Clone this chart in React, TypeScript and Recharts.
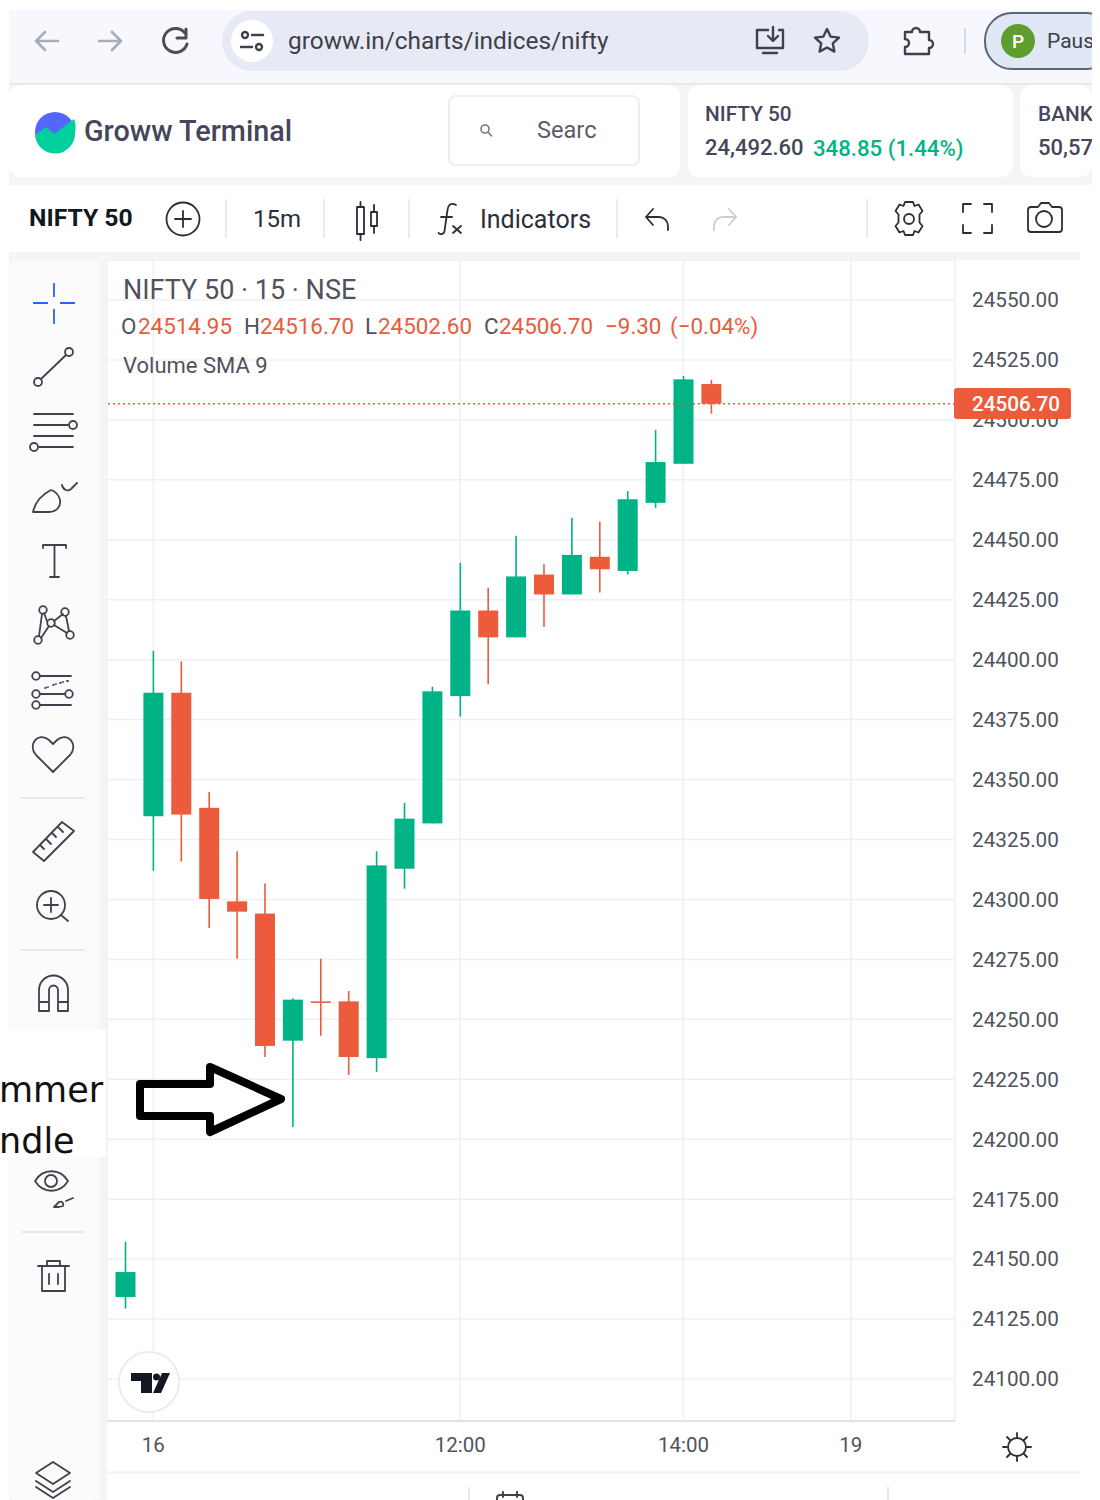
import React from "react"
import { ComposedChart, Bar, XAxis, YAxis, CartesianGrid, ReferenceLine } from "recharts"

const times = [
  "13 15:15", "16 09:15", "16 09:30", "16 09:45", "16 10:00", "16 10:15", "16 10:30", "16 10:45",
  "16 11:00", "16 11:15", "16 11:30", "16 11:45", "16 12:00", "16 12:15", "16 12:30", "16 12:45",
  "16 13:00", "16 13:15", "16 13:30", "16 13:45", "16 14:00", "16 14:15", "16 14:30", "16 14:45",
  "16 15:00", "16 15:15", "19 09:15", "19 09:30", "19 09:45", "19 10:00",
]
const opens = [
  24134.2, 24334.7, 24386.2, 24338.2, 24299.2, 24294.1, 24241.1, 24257.5, 24257.5, 24233.8, 24312.8,
  24331.7, 24384.8, 24420.5, 24409.3, 24435.5, 24427.2, 24442.9, 24437, 24465.4, 24481.7, 24514.95,
]
const highs = [
  24157.3, 24403.7, 24399.3, 24344.8, 24320.1, 24306.6, 24258.8, 24275.3, 24261.8, 24320.1, 24340.3,
  24388.7, 24440.4, 24430, 24451.7, 24439.8, 24459.2, 24457.5, 24470.3, 24495.8, 24518.3, 24516.7,
]
const lows = [
  24129.4, 24312, 24315.8, 24288.1, 24275.3, 24234.3, 24205.1, 24243.1, 24226.8, 24228.1, 24304.5,
  24331.7, 24376.2, 24389.7, 24409.3, 24413.6, 24427.2, 24428, 24435.5, 24463.3, 24481.7, 24502.6,
]
const closes = [
  24144.6, 24386.2, 24335.4, 24300.2, 24294.9, 24238.9, 24258.2, 24256.9, 24234.3, 24314.2, 24333.7,
  24386.8, 24420.5, 24409.3, 24434.7, 24427.2, 24443.7, 24437.7, 24466.9, 24482.4, 24516.9, 24506.7,
]
const priceTicks = [
  24100, 24125, 24150, 24175, 24200, 24225, 24250, 24275, 24300, 24325, 24350, 24375, 24400, 24425,
  24450, 24475, 24500, 24525, 24550,
]
const timeLabels: Record<string, string> = {
  "16 09:15": "16",
  "16 12:00": "12:00",
  "16 14:00": "14:00",
  "19 09:15": "19",
}
const lastClose = 24506.7

const GREEN = "#00b386"
const RED = "#eb5b3c"
const INK = "#50535e"
const FONT = "Roboto, sans-serif"

const candles = times.map((time, i) => ({
  time,
  range: i < highs.length ? [lows[i], highs[i]] : null,
  open: opens[i],
  close: closes[i],
}))

function Candle(props: any) {
  const { x, y, width, height, payload } = props
  if (!payload || !payload.range) return null
  const [low, high] = payload.range
  const at = (v: number) => y + ((high - v) / (high - low)) * height
  const top = at(Math.max(payload.open, payload.close))
  const bottom = at(Math.min(payload.open, payload.close))
  const color = payload.close >= payload.open ? GREEN : RED
  const cx = x + width / 2
  return (
    <g>
      <line x1={cx} x2={cx} y1={y} y2={y + height} stroke={color} strokeWidth={1.6} />
      <rect x={x} y={top} width={width} height={Math.max(bottom - top, 1.6)} fill={color} />
    </g>
  )
}

function Txt({ x, y, size = 22, color = INK, weight = 400, font = FONT, children }: any) {
  return (
    <div
      style={{
        position: "absolute", left: x, top: y, transform: "translateY(-50%)", fontSize: size,
        color, fontWeight: weight, fontFamily: font, whiteSpace: "nowrap", lineHeight: 1,
      }}
    >
      {children}
    </div>
  )
}

function Box({ x, y, w, h, bg = "#fff", r = 0, border }: any) {
  return (
    <div
      style={{
        position: "absolute", left: x, top: y, width: w, height: h, background: bg, borderRadius: r,
        border, boxSizing: "border-box",
      }}
    />
  )
}

function Icons() {
  const line = { fill: "none", stroke: "#3f424d", strokeWidth: 2, strokeLinecap: "round", strokeLinejoin: "round" } as const
  return (
    <svg width={1100} height={1500} style={{ position: "absolute", left: 0, top: 0 }}>
      {/* browser bar */}
      <g {...line} stroke="#a9acb4" strokeWidth={2.6}>
        <path d="M58 41H36M45 32l-9 9 9 9" />
        <path d="M99 41H121M112 32l9 9-9 9" />
      </g>
      <g {...line} stroke="#4a4d55" strokeWidth={3}>
        <path d="M185 33A12 12 0 1 0 187 44" />
        <path d="M186 29v9h-9" />
      </g>
      <circle cx={252} cy={41} r={21} fill="#fff" />
      <g {...line} strokeWidth={2.4}>
        <circle cx={245} cy={35} r={3} />
        <path d="M252 35h11M241 47h11" />
        <circle cx={259} cy={47} r={3} />
      </g>
      <g {...line} strokeWidth={2.4}>
        <path d="M768 30h-11v18h26v-18h-4M763 53h14M773 27v13M768 36l5 5 5-5" />
        <path d="M827 29l3.6 7.6 8.4 1-6.2 5.8 1.6 8.2-7.4-4.1-7.4 4.1 1.6-8.2-6.2-5.8 8.4-1z" />
        <path d="M905 32h7a4 4 0 0 1 8 0h9v8a4 4 0 0 1 0 8v6h-24v-7a4 4 0 0 0 0-8z" />
      </g>
      <path d="M965 28v26" stroke="#d5dbe8" strokeWidth={2} />
      <circle cx={1018} cy={41} r={17} fill="#5f9e2e" />

      {/* logo */}
      <circle cx={55} cy={132} r={20} fill="#5367ff" />
      <path d="M35 135l11-8 8 7 20-15a20 20 0 0 1 1 13 20 20 0 0 1-40 3z" fill="#00d09c" />
      <g {...line} stroke="#777" strokeWidth={1.6}>
        <circle cx={485} cy={129} r={4} />
        <path d="M488 132l3.5 4" />
      </g>

      {/* top toolbar */}
      <g stroke="#e3e5ea" strokeWidth={1.5}>
        {[226, 324, 409, 617, 867].map((sx) => (
          <line key={sx} x1={sx} x2={sx} y1={199} y2={238} />
        ))}
      </g>
      <g {...line} stroke="#2a2e39" strokeWidth={1.8}>
        <circle cx={183} cy={219} r={16.5} />
        <path d="M183 211v16M175 219h16" />
        <rect x={357} y={207} width={7} height={27} />
        <path d="M360.5 202v5M360.5 234v6" />
        <rect x={371} y={212} width={6} height={14} />
        <path d="M374 205v7M374 226v7" />
        <path d="M456 205c-5-3-8 0-8.500 5l-3 21c-.6 3-3.500 4-6 2M441 217h11M453 226l8 7M461 226l-8 7" />
        <path d="M668 230v-4a9 9 0 0 0-9-9h-13M653 209l-7 8 7 8" />
        <path d="M736 230v-4a9 9 0 0 0-9-9h-13" stroke="#c9ccd3" transform="translate(1450 0) scale(-1 1)" />
        <path d="M729 209l7 8-7 8" stroke="#c9ccd3" />
        <circle cx={909} cy={219} r={5} />
        <path d="M905 202h8l1.500 4 4-1.500 4 6.500-3 3.500v8l3 3.500-4 6.500-4-1.500-1.500 4h-8l-1.500-4-4 1.500-4-6.500 3-3.500v-8l-3-3.500 4-6.500 4 1.500z" />
        <path d="M963 212v-8h8M992 212v-8h-8M963 225v8h8M992 225v8h-8" />
        <path d="M1031 207h7l3-4h8l3 4h7a3 3 0 0 1 3 3v19a3 3 0 0 1-3 3h-28a3 3 0 0 1-3-3v-19a3 3 0 0 1 3-3z" />
        <circle cx={1044} cy={219} r={8} />
      </g>

      {/* drawing tools */}
      <path d="M33 303h15M60 303h15M54 283v14M54 309v15" stroke="#2962ff" strokeWidth={1.8} />
      <g {...line} strokeWidth={1.8}>
        <circle cx={69} cy={352} r={4} />
        <circle cx={38} cy={382} r={4} />
        <path d="M41 379l25-24" />
        <path d="M34 414h39M34 425h34M34 436h39M39 447h34" />
        <circle cx={73} cy={425} r={4} />
        <circle cx={34} cy={447} r={4} />
        <path d="M33 512h16c8 0 12-6 11-12-1-5-5-9-9-10-10 5-16 13-18 22zM62 485c1 5 6 7 9 4l6-6" />
        <path d="M43 548v-3h23v3M54.500 545v32M50 577h9" />
        <circle cx={43} cy={610} r={3.800} />
        <circle cx={65} cy={612} r={3.800} />
        <circle cx={38} cy={640} r={3.800} />
        <circle cx={70} cy={635} r={3.800} />
        <circle cx={51} cy={623} r={3.800} />
        <path d="M42 614l-3 22M41 638l8-12M47 621l-3-8M54 621l9-7M54 625l13 8M66 616l3 15" />
        <circle cx={36} cy={676} r={3.800} />
        <circle cx={36} cy={694} r={3.800} />
        <circle cx={69} cy={694} r={3.800} />
        <circle cx={36} cy={705} r={3.800} />
        <path d="M40 676h31M40 694h25M40 705h31" />
        <path d="M45 688l3-1M53 685l3-1M60 683l3-1M67 681l1 0" strokeDasharray="1 2" />
        <path d="M53 772l-17-17c-9-10 2-24 13-15l4 4 4-4c11-9 22 5 13 15z" />
        <path d="M33 852l29-30 12 9-30 30z" />
        <path d="M40 845l4 4M46 839l5 5M52 833l4 4M58 827l5 5" />
        <circle cx={51} cy={905} r={14} />
        <path d="M51 898v14M44 905h14M61 915l7 6" />
        <path d="M39 1011v-21a14.500 14.500 0 0 1 29 0v21h-10v-21a4.500 4.500 0 0 0-9 0v21zM39 1002h10M58 1002h10" />
        <path d="M35 1181c8-13 25-13 33 0-8 13-25 13-33 0z" />
        <circle cx={51} cy={1181} r={6} />
        <path d="M54 1207l5-5c3-1 5 1 4 4l-4 1zM66 1201l7-3" />
        <path d="M38 1266h31M47 1266v-5h13v5M42 1266v25h23v-25M49 1274v10M58 1274v10" />
        <path d="M53 1462l17 11-17 11-17-11zM36 1481l17 11 17-11M36 1487l17 11 17-11" />
      </g>
      <g stroke="#e0e3eb" strokeWidth={1.5}>
        <line x1={21} x2={85} y1={798} y2={798} />
        <line x1={21} x2={85} y1={950} y2={950} />
        <line x1={21} x2={85} y1={1232} y2={1232} />
      </g>

      {/* tv badge */}
      <circle cx={149} cy={1382} r={30} fill="#fff" stroke="#ececec" strokeWidth={2} />
      <path d="M131 1373h21v20h-11v-12h-10zM162 1373h8l-9 20h-8z" fill="#131722" />
      <circle cx={156.500} cy={1377} r={3.500} fill="#131722" />

      {/* sun */}
      <g {...line} stroke="#2a2e39" strokeWidth={1.8}>
        <circle cx={1017} cy={1447} r={9} />
        <path d="M1017 1433v4M1017 1457v4M1003 1447h4M1027 1447h4M1007 1437l3 3M1024 1454l3 3M1027 1437l-3 3M1010 1454l-3 3" />
      </g>

      {/* bottom bar */}
      <g stroke="#e0e3eb" strokeWidth={1.5}>
        <line x1={469} x2={469} y1={1487} y2={1500} />
        <line x1={888} x2={888} y1={1487} y2={1500} />
      </g>
      <path d="M497 1504v-6a3 3 0 0 1 3-3h20a3 3 0 0 1 3 3v6M503 1492v5M517 1492v5" {...line} />

      {/* hammer arrow */}
      <path
        d="M140 1084H210V1067L281 1099L210 1132V1116H140Z"
        fill="none" stroke="#000" strokeWidth={8} strokeLinejoin="round"
      />
    </svg>
  )
}

export default function App() {
  return (
    <div style={{ position: "absolute", left: 0, top: 0, width: 1100, height: 1500, overflow: "hidden", background: "#fff" }}>
      {/* page panels */}
      <Box x={9} y={10} w={1083} h={74} bg="#f7f8fd" />
      <Box x={9} y={83} w={1083} h={2} bg="#e6e8ef" />
      <Box x={9} y={85} w={1083} h={1415} bg="#f5f5f6" />
      <Box x={222} y={11} w={647} h={60} bg="#e7eaf4" r={30} />
      <Box x={984} y={12} w={130} h={58} bg="#e0e8f7" r={28} border="2px solid #5f6673" />
      <Box x={9} y={85} w={671} h={92} r={12} />
      <Box x={448} y={95} w={192} h={71} r={8} border="2px solid #eeeeee" />
      <Box x={688} y={85} w={325} h={92} r={12} />
      <Box x={1020} y={85} w={72} h={92} r={12} />
      <Box x={9} y={185} w={1071} h={67} />
      <Box x={9} y={260} w={91} h={1240} bg="#fbfbfb" r={6} />
      <Box x={107} y={260} w={973} h={1211} />
      <Box x={107} y={1474} w={973} h={26} />
      <Box x={1080} y={185} w={20} h={1315} />

      <div style={{ position: "absolute", left: 0, top: 0 }}>
        <ComposedChart
          width={1100}
          height={1500}
          data={candles}
          barSize={20}
          margin={{ top: 260, right: 0, bottom: 0, left: 107 }}
        >
          <CartesianGrid stroke="#f0f0f2" strokeWidth={1.5} />
          <XAxis
            dataKey="time"
            height={79}
            interval={0}
            ticks={Object.keys(timeLabels)}
            tickFormatter={(t: string) => timeLabels[t]}
            tick={{ fontSize: 20.5, fill: INK, fontFamily: FONT }}
            tickLine={false}
            tickMargin={10}
            axisLine={{ stroke: "#dfe3ee", strokeWidth: 2 }}
            padding={{ left: 4.5, right: 6.5 }}
          />
          <YAxis
            orientation="right"
            width={145}
            domain={[24082.48, 24566.68]}
            ticks={priceTicks}
            interval={0}
            allowDataOverflow
            tickFormatter={(v: number) => v.toFixed(2)}
            tick={{ fontSize: 20.7, fill: INK, fontFamily: FONT }}
            tickLine={false}
            axisLine={false}
            tickMargin={11}
          />
          <Bar dataKey="range" shape={Candle} isAnimationActive={false} />
          <ReferenceLine y={lastClose} stroke={RED} strokeDasharray="2 3" strokeWidth={1.5} />
        </ComposedChart>
      </div>

      <Box x={0} y={1030} w={106} h={127} />
      <Icons />

      <Txt x={288} y={41} size={24.4} color="#3d4048">groww.in/charts/indices/nifty</Txt>
      <Txt x={1018} y={41} size={19} color="#fff" weight={500} >
        <span style={{ marginLeft: -6 }}>P</span>
      </Txt>
      <Txt x={1047} y={41} size={21} color="#3d4048">Paus</Txt>

      <Txt x={84} y={131} size={28.8} color="#44475b" weight={500}>Groww Terminal</Txt>
      <Txt x={537} y={131} size={23.6} color="#5a5d6b">Searc</Txt>
      <Txt x={705} y={114} size={20.8} color="#44475b" weight={500}>NIFTY 50</Txt>
      <Txt x={705} y={148} size={22} color="#44475b" weight={500}>24,492.60</Txt>
      <Txt x={813} y={148} size={22.2} color={GREEN} weight={500}>348.85 (1.44%)</Txt>
      <Txt x={1038} y={114} size={20.8} color="#44475b" weight={500}>BANK</Txt>
      <Txt x={1038} y={148} size={22} color="#44475b" weight={500}>50,57</Txt>

      <Txt x={29} y={218} size={24.7} color="#131722" weight={700}>NIFTY 50</Txt>
      <Txt x={253} y={219} size={24} color="#2a2e39">15m</Txt>
      <Txt x={480} y={219} size={25} color="#2a2e39">Indicators</Txt>

      <Txt x={123} y={290} size={27} color={INK}>NIFTY 50 · 15 · NSE</Txt>
      <Txt x={121} y={326} size={22.4} color={INK}>O</Txt>
      <Txt x={138} y={326} size={22.4} color={RED}>24514.95</Txt>
      <Txt x={244} y={326} size={22.4} color={INK}>H</Txt>
      <Txt x={260} y={326} size={22.4} color={RED}>24516.70</Txt>
      <Txt x={365} y={326} size={22.4} color={INK}>L</Txt>
      <Txt x={378} y={326} size={22.4} color={RED}>24502.60</Txt>
      <Txt x={484} y={326} size={22.4} color={INK}>C</Txt>
      <Txt x={499} y={326} size={22.4} color={RED}>24506.70</Txt>
      <Txt x={605} y={326} size={22.4} color={RED}>−9.30</Txt>
      <Txt x={670} y={326} size={22.4} color={RED}>(−0.04%)</Txt>
      <Txt x={123} y={366} size={22} color={INK}>Volume SMA 9</Txt>

      <Box x={954} y={388} w={117} h={31} bg={RED} r={3} />
      <Txt x={972} y={404} size={20.7} color="#fff" weight={500}>{lastClose.toFixed(2)}</Txt>

      <Txt x={-1} y={1090} size={35} color="#111" font="'DejaVu Sans', sans-serif">mmer</Txt>
      <Txt x={-1} y={1141} size={35} color="#111" font="'DejaVu Sans', sans-serif">ndle</Txt>

      {/* the screenshot ends at x=1092 in the top rows */}
      <Box x={1092} y={0} w={8} h={185} />
    </div>
  )
}
